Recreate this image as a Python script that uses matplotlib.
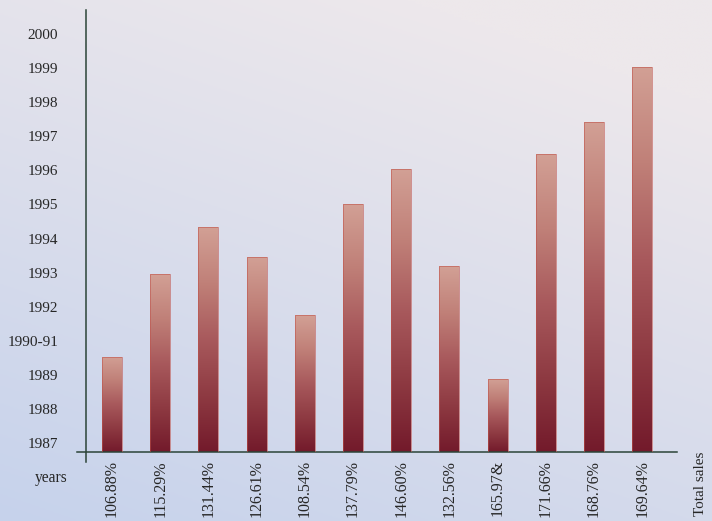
import numpy as np
import matplotlib
matplotlib.use("Agg")
import matplotlib.pyplot as plt
from matplotlib.colors import LinearSegmentedColormap
from matplotlib.lines import Line2D

# ---- data ----
year_labels = ["1987", "1988", "1989", "1990-91", "1992", "1993", "1994",
               "1995", "1996", "1997", "1998", "1999", "2000"]
sales_labels = ["106.88%", "115.29%", "131.44%", "126.61%", "108.54%", "137.79%",
                "146.60%", "132.56%", "165.97&", "171.66%", "168.76%", "169.64%"]
# bar heights measured in year-tick units above the 1987 tick
bar_values = [2.53, 4.96, 6.34, 5.45, 3.74, 7.01, 8.03, 5.19, 1.88, 8.49, 9.43, 11.05]

W, H = 712, 521
fig = plt.figure(figsize=(W / 100, H / 100), dpi=100)

# background paper gradient
bg = fig.add_axes([0, 0, 1, 1], zorder=-10)
yy, xx = np.mgrid[0:1:200j, 0:1:200j]
t = np.clip(0.75 * yy + 0.35 * (1 - xx) - 0.15, 0, 1)  # 0 top-right, 1 bottom-left
top_c = np.array([237, 232, 235]) / 255
bot_c = np.array([196, 209, 236]) / 255
img = top_c[None, None, :] * (1 - t[..., None]) + bot_c[None, None, :] * t[..., None]
bg.imshow(img, extent=[0, 1, 0, 1], aspect="auto", origin="upper")
bg.axis("off")

# main axes
left_px, right_px, top_px, base_px = 86, 677, 10, 451.7
ax = fig.add_axes([left_px / W, (H - base_px) / H, (right_px - left_px) / W,
                   (base_px - top_px) / H])
ax.patch.set_alpha(0)

unit_px = 34.03
offset = 9.0 / unit_px  # 1987 tick sits slightly above the baseline
spacing = 48.2
xlim = (-(112 - left_px) / spacing, -(112 - left_px) / spacing + (right_px - left_px) / spacing)
ylim = (0, (base_px - top_px) / unit_px)

x = np.arange(len(bar_values))
heights = np.array(bar_values) + offset
width = 20 / spacing

cmap = LinearSegmentedColormap.from_list(
    "bar", ["#731a2b", "#8e3a42", "#a8595c", "#c08078", "#d2a095"])
grad = np.linspace(0, 1, 256).reshape(-1, 1)
bars = ax.bar(x, heights, width=width, facecolor="none",
              edgecolor="#c0524a", linewidth=0.4, zorder=3)
for b in bars:
    x0, y0 = b.get_x(), b.get_y()
    im = ax.imshow(grad, cmap=cmap, aspect="auto", origin="lower",
                   extent=[x0, x0 + b.get_width(), y0, y0 + b.get_height()], zorder=2)
    im.set_clip_path(b)
ax.set_xlim(*xlim)
ax.set_ylim(*ylim)

for s in ax.spines.values():
    s.set_visible(False)

axis_col = "#2b4437"
ax.add_line(Line2D([-(86 - 77) / (right_px - left_px), 1], [0, 0], transform=ax.transAxes,
                   color=axis_col, lw=1.1, clip_on=False))
ax.add_line(Line2D([0, 0], [-(462 - base_px) / (base_px - top_px), 1], transform=ax.transAxes,
                   color=axis_col, lw=1.1, clip_on=False))

txt_col = "#262626"
ax.set_yticks(offset + np.arange(len(year_labels)))
ax.set_yticklabels(year_labels, family="Liberation Serif", fontsize=11, color=txt_col)
ax.set_xticks(x)
ax.set_xticklabels(sales_labels, rotation=90, family="Liberation Serif", fontsize=11.5,
                   color=txt_col, va="top", ha="center")
ax.tick_params(axis="y", length=0, pad=20)
ax.tick_params(axis="x", length=0, pad=6)

fig.text(67 / W, (H - 478) / H, "years", ha="right", va="center",
         family="Liberation Serif", fontsize=11.2, color=txt_col)
fig.text(700 / W, (H - 484) / H, "Total sales", ha="center", va="center", rotation=90,
         family="Liberation Serif", fontsize=11, color=txt_col)

fig.savefig("out.png", dpi=100)
